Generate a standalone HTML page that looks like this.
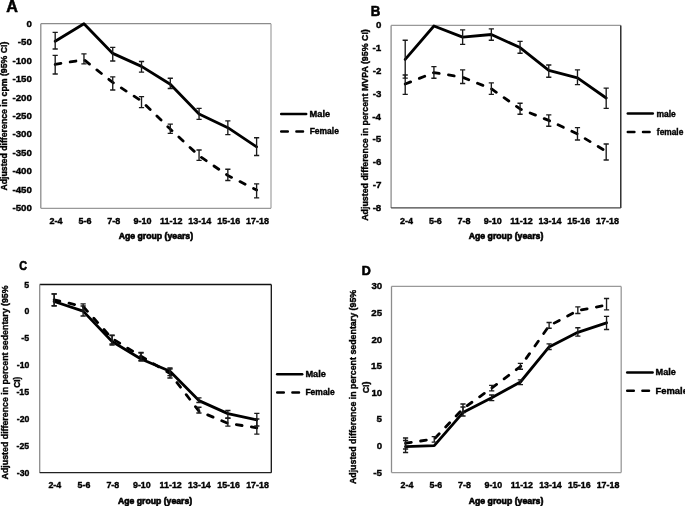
<!DOCTYPE html>
<html><head><meta charset="utf-8"><style>
html,body{margin:0;padding:0;background:#fff;overflow:hidden}
svg{display:block;filter:blur(0.3px)}
text{font-family:"Liberation Sans", sans-serif;font-weight:bold;stroke:#000;stroke-width:0.38px}
</style></head><body>
<svg width="685" height="506" viewBox="0 0 685 506">
<rect width="685" height="506" fill="#fff"/>
<line x1="40.8" y1="23.7" x2="271.0" y2="23.7" stroke="#8c8c8c" stroke-width="1.3"/>
<line x1="40.8" y1="23.7" x2="40.8" y2="208.3" stroke="#8c8c8c" stroke-width="1.3"/>
<line x1="271.0" y1="23.7" x2="271.0" y2="208.3" stroke="#a8a8a8" stroke-width="1.3"/>
<line x1="40.8" y1="208.3" x2="271.0" y2="208.3" stroke="#999" stroke-width="1.3"/>
<polyline points="55.19,41.20 83.96,23.80 112.74,53.40 141.51,66.40 170.29,84.30 199.06,113.90 227.84,127.70 256.61,146.80" fill="none" stroke="#000" stroke-width="2.8" stroke-linejoin="round" stroke-linecap="round"/>
<polyline points="55.19,64.40 83.96,59.70 112.74,82.40 141.51,101.00 170.29,129.10 199.06,155.80 227.84,175.50 256.61,190.00" fill="none" stroke="#000" stroke-width="2.8" stroke-linejoin="round" stroke-linecap="round" stroke-dasharray="5.8 9.4"/>
<path d="M55.19 32.40V49.00M52.59 32.40H57.79M52.59 49.00H57.79" stroke="#1a1a1a" stroke-width="1.35" fill="none"/>
<path d="M112.74 47.30V61.00M110.14 47.30H115.34M110.14 61.00H115.34" stroke="#1a1a1a" stroke-width="1.35" fill="none"/>
<path d="M141.51 61.50V72.10M138.91 61.50H144.11M138.91 72.10H144.11" stroke="#1a1a1a" stroke-width="1.35" fill="none"/>
<path d="M170.29 78.20V88.50M167.69 78.20H172.89M167.69 88.50H172.89" stroke="#1a1a1a" stroke-width="1.35" fill="none"/>
<path d="M199.06 108.40V119.40M196.46 108.40H201.66M196.46 119.40H201.66" stroke="#1a1a1a" stroke-width="1.35" fill="none"/>
<path d="M227.84 120.80V134.60M225.24 120.80H230.44M225.24 134.60H230.44" stroke="#1a1a1a" stroke-width="1.35" fill="none"/>
<path d="M256.61 137.70V155.50M254.01 137.70H259.21M254.01 155.50H259.21" stroke="#1a1a1a" stroke-width="1.35" fill="none"/>
<path d="M55.19 55.30V74.00M52.59 55.30H57.79M52.59 74.00H57.79" stroke="#1a1a1a" stroke-width="1.35" fill="none"/>
<path d="M83.96 53.80V63.90M81.36 53.80H86.56M81.36 63.90H86.56" stroke="#1a1a1a" stroke-width="1.35" fill="none"/>
<path d="M112.74 76.80V90.00M110.14 76.80H115.34M110.14 90.00H115.34" stroke="#1a1a1a" stroke-width="1.35" fill="none"/>
<path d="M141.51 96.60V107.60M138.91 96.60H144.11M138.91 107.60H144.11" stroke="#1a1a1a" stroke-width="1.35" fill="none"/>
<path d="M170.29 124.10V133.30M167.69 124.10H172.89M167.69 133.30H172.89" stroke="#1a1a1a" stroke-width="1.35" fill="none"/>
<path d="M199.06 150.00V160.40M196.46 150.00H201.66M196.46 160.40H201.66" stroke="#1a1a1a" stroke-width="1.35" fill="none"/>
<path d="M227.84 169.20V180.50M225.24 169.20H230.44M225.24 180.50H230.44" stroke="#1a1a1a" stroke-width="1.35" fill="none"/>
<path d="M256.61 183.90V197.80M254.01 183.90H259.21M254.01 197.80H259.21" stroke="#1a1a1a" stroke-width="1.35" fill="none"/>
<text x="26.50" y="27.00" font-size="9.71" textLength="5.40" lengthAdjust="spacingAndGlyphs" fill="#000" >0</text>
<text x="17.85" y="45.00" font-size="9.71" textLength="14.04" lengthAdjust="spacingAndGlyphs" fill="#000" >-50</text>
<text x="12.46" y="64.00" font-size="9.71" textLength="19.44" lengthAdjust="spacingAndGlyphs" fill="#000" >-100</text>
<text x="12.46" y="82.00" font-size="9.71" textLength="19.44" lengthAdjust="spacingAndGlyphs" fill="#000" >-150</text>
<text x="12.46" y="101.00" font-size="9.71" textLength="19.44" lengthAdjust="spacingAndGlyphs" fill="#000" >-200</text>
<text x="12.46" y="119.00" font-size="9.71" textLength="19.44" lengthAdjust="spacingAndGlyphs" fill="#000" >-250</text>
<text x="12.46" y="137.00" font-size="9.71" textLength="19.44" lengthAdjust="spacingAndGlyphs" fill="#000" >-300</text>
<text x="12.46" y="156.00" font-size="9.71" textLength="19.44" lengthAdjust="spacingAndGlyphs" fill="#000" >-350</text>
<text x="12.46" y="174.00" font-size="9.71" textLength="19.44" lengthAdjust="spacingAndGlyphs" fill="#000" >-400</text>
<text x="12.46" y="193.00" font-size="9.71" textLength="19.44" lengthAdjust="spacingAndGlyphs" fill="#000" >-450</text>
<text x="12.46" y="211.00" font-size="9.71" textLength="19.44" lengthAdjust="spacingAndGlyphs" fill="#000" >-500</text>
<text x="49.55" y="224.30" font-size="9.00" textLength="13.01" lengthAdjust="spacingAndGlyphs" fill="#000" >2-4</text>
<text x="78.48" y="224.30" font-size="9.00" textLength="13.01" lengthAdjust="spacingAndGlyphs" fill="#000" >5-6</text>
<text x="107.17" y="224.30" font-size="9.00" textLength="13.01" lengthAdjust="spacingAndGlyphs" fill="#000" >7-8</text>
<text x="133.53" y="224.30" font-size="9.00" textLength="18.01" lengthAdjust="spacingAndGlyphs" fill="#000" >9-10</text>
<text x="159.92" y="224.30" font-size="9.00" textLength="22.52" lengthAdjust="spacingAndGlyphs" fill="#000" >11-12</text>
<text x="188.29" y="224.30" font-size="9.00" textLength="23.02" lengthAdjust="spacingAndGlyphs" fill="#000" >13-14</text>
<text x="217.20" y="224.30" font-size="9.00" textLength="23.02" lengthAdjust="spacingAndGlyphs" fill="#000" >15-16</text>
<text x="245.96" y="224.30" font-size="9.00" textLength="23.02" lengthAdjust="spacingAndGlyphs" fill="#000" >17-18</text>
<text x="118.68" y="239.00" font-size="8.28" textLength="74.43" lengthAdjust="spacingAndGlyphs" fill="#000" style="stroke-width:0.6px">Age group (years)</text>
<text x="0" y="0" font-size="8.60" textLength="149.05" lengthAdjust="spacingAndGlyphs" transform="translate(7.00,190.62) rotate(-90)">Adjusted difference in cpm (95% CI)</text>
<text x="6.20" y="12.00" font-size="17.10" textLength="11.64" lengthAdjust="spacingAndGlyphs" fill="#000" style="stroke-width:0.6px">A</text>
<line x1="281.2" y1="113.9" x2="306.2" y2="113.9" stroke="#000" stroke-width="2.5" stroke-linecap="round"/>
<line x1="281.2" y1="131.4" x2="306.2" y2="131.4" stroke="#000" stroke-width="2.5" stroke-linecap="round" stroke-dasharray="6.6 8.6"/>
<text x="309.60" y="117.00" font-size="8.41" textLength="20.55" lengthAdjust="spacingAndGlyphs" fill="#000" >Male</text>
<text x="309.65" y="134.40" font-size="8.55" textLength="29.26" lengthAdjust="spacingAndGlyphs" fill="#000" >Female</text>
<line x1="391.1" y1="25.4" x2="620.8" y2="25.4" stroke="#999" stroke-width="1.3"/>
<line x1="391.1" y1="25.4" x2="391.1" y2="207.9" stroke="#8c8c8c" stroke-width="1.3"/>
<line x1="620.8" y1="25.4" x2="620.8" y2="207.9" stroke="#111" stroke-width="1.3"/>
<line x1="391.1" y1="207.9" x2="620.8" y2="207.9" stroke="#444" stroke-width="1.3"/>
<polyline points="405.21,59.40 433.92,26.00 462.63,37.10 491.34,34.50 520.06,47.60 548.77,70.40 577.48,77.80 606.19,98.00" fill="none" stroke="#000" stroke-width="2.8" stroke-linejoin="round" stroke-linecap="round"/>
<polyline points="405.21,84.00 433.92,72.60 462.63,77.30 491.34,88.80 520.06,108.90 548.77,120.40 577.48,134.00 606.19,151.40" fill="none" stroke="#000" stroke-width="2.8" stroke-linejoin="round" stroke-linecap="round" stroke-dasharray="5.8 9.4"/>
<path d="M405.21 40.20V78.10M402.61 40.20H407.81M402.61 78.10H407.81" stroke="#1a1a1a" stroke-width="1.35" fill="none"/>
<path d="M462.63 29.80V44.30M460.03 29.80H465.23M460.03 44.30H465.23" stroke="#1a1a1a" stroke-width="1.35" fill="none"/>
<path d="M491.34 28.80V40.20M488.74 28.80H493.94M488.74 40.20H493.94" stroke="#1a1a1a" stroke-width="1.35" fill="none"/>
<path d="M520.06 41.30V53.20M517.46 41.30H522.66M517.46 53.20H522.66" stroke="#1a1a1a" stroke-width="1.35" fill="none"/>
<path d="M548.77 65.00V77.20M546.17 65.00H551.37M546.17 77.20H551.37" stroke="#1a1a1a" stroke-width="1.35" fill="none"/>
<path d="M577.48 69.80V84.60M574.88 69.80H580.08M574.88 84.60H580.08" stroke="#1a1a1a" stroke-width="1.35" fill="none"/>
<path d="M606.19 88.10V108.30M603.59 88.10H608.79M603.59 108.30H608.79" stroke="#1a1a1a" stroke-width="1.35" fill="none"/>
<path d="M405.21 75.00V94.40M402.61 75.00H407.81M402.61 94.40H407.81" stroke="#1a1a1a" stroke-width="1.35" fill="none"/>
<path d="M433.92 66.60V78.20M431.32 66.60H436.52M431.32 78.20H436.52" stroke="#1a1a1a" stroke-width="1.35" fill="none"/>
<path d="M462.63 69.80V83.50M460.03 69.80H465.23M460.03 83.50H465.23" stroke="#1a1a1a" stroke-width="1.35" fill="none"/>
<path d="M491.34 82.90V94.30M488.74 82.90H493.94M488.74 94.30H493.94" stroke="#1a1a1a" stroke-width="1.35" fill="none"/>
<path d="M520.06 103.20V114.20M517.46 103.20H522.66M517.46 114.20H522.66" stroke="#1a1a1a" stroke-width="1.35" fill="none"/>
<path d="M548.77 114.90V126.20M546.17 114.90H551.37M546.17 126.20H551.37" stroke="#1a1a1a" stroke-width="1.35" fill="none"/>
<path d="M577.48 127.60V140.00M574.88 127.60H580.08M574.88 140.00H580.08" stroke="#1a1a1a" stroke-width="1.35" fill="none"/>
<path d="M606.19 144.00V160.00M603.59 144.00H608.79M603.59 160.00H608.79" stroke="#1a1a1a" stroke-width="1.35" fill="none"/>
<text x="376.00" y="28.00" font-size="9.71" textLength="5.40" lengthAdjust="spacingAndGlyphs" fill="#000" >0</text>
<text x="372.48" y="51.00" font-size="9.86" textLength="8.76" lengthAdjust="spacingAndGlyphs" fill="#000" >-1</text>
<text x="372.74" y="74.00" font-size="9.71" textLength="8.64" lengthAdjust="spacingAndGlyphs" fill="#000" >-2</text>
<text x="372.69" y="97.00" font-size="9.71" textLength="8.64" lengthAdjust="spacingAndGlyphs" fill="#000" >-3</text>
<text x="372.28" y="120.00" font-size="9.86" textLength="8.76" lengthAdjust="spacingAndGlyphs" fill="#000" >-4</text>
<text x="372.48" y="142.00" font-size="9.86" textLength="8.76" lengthAdjust="spacingAndGlyphs" fill="#000" >-5</text>
<text x="372.69" y="165.00" font-size="9.71" textLength="8.64" lengthAdjust="spacingAndGlyphs" fill="#000" >-6</text>
<text x="372.67" y="188.00" font-size="9.86" textLength="8.76" lengthAdjust="spacingAndGlyphs" fill="#000" >-7</text>
<text x="372.65" y="211.00" font-size="9.71" textLength="8.64" lengthAdjust="spacingAndGlyphs" fill="#000" >-8</text>
<text x="400.02" y="224.30" font-size="9.00" textLength="13.01" lengthAdjust="spacingAndGlyphs" fill="#000" >2-4</text>
<text x="428.89" y="224.30" font-size="9.00" textLength="13.01" lengthAdjust="spacingAndGlyphs" fill="#000" >5-6</text>
<text x="457.51" y="224.30" font-size="9.00" textLength="13.01" lengthAdjust="spacingAndGlyphs" fill="#000" >7-8</text>
<text x="483.82" y="224.30" font-size="9.00" textLength="18.01" lengthAdjust="spacingAndGlyphs" fill="#000" >9-10</text>
<text x="510.14" y="224.30" font-size="9.00" textLength="22.52" lengthAdjust="spacingAndGlyphs" fill="#000" >11-12</text>
<text x="538.45" y="224.30" font-size="9.00" textLength="23.02" lengthAdjust="spacingAndGlyphs" fill="#000" >13-14</text>
<text x="567.30" y="224.30" font-size="9.00" textLength="23.02" lengthAdjust="spacingAndGlyphs" fill="#000" >15-16</text>
<text x="595.99" y="224.30" font-size="9.00" textLength="23.02" lengthAdjust="spacingAndGlyphs" fill="#000" >17-18</text>
<text x="468.68" y="239.00" font-size="8.28" textLength="74.63" lengthAdjust="spacingAndGlyphs" fill="#000" style="stroke-width:0.6px">Age group (years)</text>
<text x="0" y="0" font-size="8.80" textLength="191.63" lengthAdjust="spacingAndGlyphs" transform="translate(368.00,220.82) rotate(-90)">Adjusted difference in percent MVPA (95% CI)</text>
<text x="370.64" y="15.60" font-size="14.93" textLength="9.59" lengthAdjust="spacingAndGlyphs" fill="#000" style="stroke-width:0.6px">B</text>
<line x1="627.8" y1="113.6" x2="652.8" y2="113.6" stroke="#000" stroke-width="2.5" stroke-linecap="round"/>
<line x1="627.8" y1="132.0" x2="652.8" y2="132.0" stroke="#000" stroke-width="2.5" stroke-linecap="round" stroke-dasharray="6.6 8.6"/>
<text x="656.45" y="116.60" font-size="8.28" textLength="19.34" lengthAdjust="spacingAndGlyphs" fill="#000" >male</text>
<text x="656.87" y="134.50" font-size="8.97" textLength="26.45" lengthAdjust="spacingAndGlyphs" fill="#000" >female</text>
<line x1="39.7" y1="284.5" x2="271.3" y2="284.5" stroke="#111" stroke-width="1.3"/>
<line x1="39.7" y1="284.5" x2="39.7" y2="472.7" stroke="#8c8c8c" stroke-width="1.3"/>
<line x1="271.3" y1="284.5" x2="271.3" y2="472.7" stroke="#111" stroke-width="1.3"/>
<line x1="39.7" y1="472.7" x2="271.3" y2="472.7" stroke="#222" stroke-width="1.3"/>
<polyline points="54.18,301.50 83.12,311.10 112.08,341.50 141.03,359.00 169.98,371.30 198.93,400.60 227.88,413.60 256.83,419.80" fill="none" stroke="#000" stroke-width="2.8" stroke-linejoin="round" stroke-linecap="round"/>
<polyline points="54.18,299.80 83.12,306.50 112.08,338.50 141.03,356.30 169.98,373.50 198.93,411.20 227.88,423.30 256.83,427.80" fill="none" stroke="#000" stroke-width="2.8" stroke-linejoin="round" stroke-linecap="round" stroke-dasharray="5.8 9.4"/>
<path d="M54.18 293.80V305.60M51.58 293.80H56.78M51.58 305.60H56.78" stroke="#1a1a1a" stroke-width="1.35" fill="none"/>
<path d="M83.12 306.00V316.00M80.53 306.00H85.72M80.53 316.00H85.72" stroke="#1a1a1a" stroke-width="1.35" fill="none"/>
<path d="M112.08 335.10V345.00M109.48 335.10H114.67M109.48 345.00H114.67" stroke="#1a1a1a" stroke-width="1.35" fill="none"/>
<path d="M141.03 352.40V360.40M138.43 352.40H143.63M138.43 360.40H143.63" stroke="#1a1a1a" stroke-width="1.35" fill="none"/>
<path d="M169.98 368.00V375.60M167.38 368.00H172.58M167.38 375.60H172.58" stroke="#1a1a1a" stroke-width="1.35" fill="none"/>
<path d="M198.93 397.80V402.50M196.33 397.80H201.53M196.33 402.50H201.53" stroke="#1a1a1a" stroke-width="1.35" fill="none"/>
<path d="M227.88 410.50V418.00M225.28 410.50H230.47M225.28 418.00H230.47" stroke="#1a1a1a" stroke-width="1.35" fill="none"/>
<path d="M256.83 413.40V426.00M254.23 413.40H259.43M254.23 426.00H259.43" stroke="#1a1a1a" stroke-width="1.35" fill="none"/>
<path d="M54.18 294.00V306.00M51.58 294.00H56.78M51.58 306.00H56.78" stroke="#1a1a1a" stroke-width="1.35" fill="none"/>
<path d="M83.12 303.80V311.00M80.53 303.80H85.72M80.53 311.00H85.72" stroke="#1a1a1a" stroke-width="1.35" fill="none"/>
<path d="M112.08 335.50V344.00M109.48 335.50H114.67M109.48 344.00H114.67" stroke="#1a1a1a" stroke-width="1.35" fill="none"/>
<path d="M141.03 353.00V361.00M138.43 353.00H143.63M138.43 361.00H143.63" stroke="#1a1a1a" stroke-width="1.35" fill="none"/>
<path d="M169.98 369.00V378.00M167.38 369.00H172.58M167.38 378.00H172.58" stroke="#1a1a1a" stroke-width="1.35" fill="none"/>
<path d="M198.93 407.20V413.00M196.33 407.20H201.53M196.33 413.00H201.53" stroke="#1a1a1a" stroke-width="1.35" fill="none"/>
<path d="M227.88 418.30V426.10M225.28 418.30H230.47M225.28 426.10H230.47" stroke="#1a1a1a" stroke-width="1.35" fill="none"/>
<path d="M256.83 419.00V434.10M254.23 419.00H259.43M254.23 434.10H259.43" stroke="#1a1a1a" stroke-width="1.35" fill="none"/>
<text x="24.30" y="288.00" font-size="9.86" textLength="4.93" lengthAdjust="spacingAndGlyphs" fill="#000" >5</text>
<text x="24.50" y="314.00" font-size="9.71" textLength="4.86" lengthAdjust="spacingAndGlyphs" fill="#000" >0</text>
<text x="21.33" y="341.00" font-size="9.86" textLength="7.89" lengthAdjust="spacingAndGlyphs" fill="#000" >-5</text>
<text x="16.72" y="368.00" font-size="9.71" textLength="12.64" lengthAdjust="spacingAndGlyphs" fill="#000" >-10</text>
<text x="16.41" y="395.00" font-size="9.86" textLength="12.82" lengthAdjust="spacingAndGlyphs" fill="#000" >-15</text>
<text x="16.72" y="422.00" font-size="9.71" textLength="12.64" lengthAdjust="spacingAndGlyphs" fill="#000" >-20</text>
<text x="16.59" y="449.00" font-size="9.71" textLength="12.64" lengthAdjust="spacingAndGlyphs" fill="#000" >-25</text>
<text x="16.72" y="476.00" font-size="9.71" textLength="12.64" lengthAdjust="spacingAndGlyphs" fill="#000" >-30</text>
<text x="48.44" y="488.00" font-size="8.86" textLength="12.80" lengthAdjust="spacingAndGlyphs" fill="#000" >2-4</text>
<text x="77.55" y="488.00" font-size="8.86" textLength="12.80" lengthAdjust="spacingAndGlyphs" fill="#000" >5-6</text>
<text x="106.41" y="488.00" font-size="8.86" textLength="12.80" lengthAdjust="spacingAndGlyphs" fill="#000" >7-8</text>
<text x="132.99" y="488.00" font-size="8.86" textLength="17.73" lengthAdjust="spacingAndGlyphs" fill="#000" >9-10</text>
<text x="159.59" y="488.00" font-size="8.86" textLength="22.17" lengthAdjust="spacingAndGlyphs" fill="#000" >11-12</text>
<text x="188.14" y="488.00" font-size="8.86" textLength="22.65" lengthAdjust="spacingAndGlyphs" fill="#000" >13-14</text>
<text x="217.23" y="488.00" font-size="8.86" textLength="22.65" lengthAdjust="spacingAndGlyphs" fill="#000" >15-16</text>
<text x="246.16" y="488.00" font-size="8.86" textLength="22.65" lengthAdjust="spacingAndGlyphs" fill="#000" >17-18</text>
<text x="117.98" y="503.50" font-size="8.28" textLength="74.13" lengthAdjust="spacingAndGlyphs" fill="#000" style="stroke-width:0.6px">Age group (years)</text>
<text x="0" y="0" font-size="8.50" textLength="194.01" lengthAdjust="spacingAndGlyphs" transform="translate(8.00,479.42) rotate(-90)">Adjusted difference in percent sedentary (95%</text>
<text x="0" y="0" font-size="8.50" textLength="11.14" lengthAdjust="spacingAndGlyphs" transform="translate(20.00,387.73) rotate(-90)">CI)</text>
<text x="19.37" y="270.30" font-size="13.29" textLength="7.72" lengthAdjust="spacingAndGlyphs" fill="#000" style="stroke-width:0.6px">C</text>
<line x1="277.2" y1="374.3" x2="302.2" y2="374.3" stroke="#000" stroke-width="2.5" stroke-linecap="round"/>
<line x1="277.2" y1="392.6" x2="302.2" y2="392.6" stroke="#000" stroke-width="2.5" stroke-linecap="round" stroke-dasharray="6.6 8.6"/>
<text x="305.40" y="377.40" font-size="8.55" textLength="20.55" lengthAdjust="spacingAndGlyphs" fill="#000" >Male</text>
<text x="305.45" y="395.40" font-size="8.41" textLength="29.26" lengthAdjust="spacingAndGlyphs" fill="#000" >Female</text>
<line x1="391.5" y1="286.4" x2="621.2" y2="286.4" stroke="#999" stroke-width="1.3"/>
<line x1="391.5" y1="286.4" x2="391.5" y2="472.6" stroke="#8c8c8c" stroke-width="1.3"/>
<line x1="621.2" y1="286.4" x2="621.2" y2="472.6" stroke="#999" stroke-width="1.3"/>
<line x1="391.5" y1="472.6" x2="621.2" y2="472.6" stroke="#999" stroke-width="1.3"/>
<polyline points="405.56,446.60 434.27,445.70 462.98,412.60 491.69,397.80 520.41,382.00 549.12,346.90 577.83,332.30 606.54,322.80" fill="none" stroke="#000" stroke-width="2.8" stroke-linejoin="round" stroke-linecap="round"/>
<polyline points="405.56,443.20 434.27,439.00 462.98,408.70 491.69,388.10 520.41,366.60 549.12,325.80 577.83,310.60 606.54,305.10" fill="none" stroke="#000" stroke-width="2.8" stroke-linejoin="round" stroke-linecap="round" stroke-dasharray="5.8 9.4"/>
<path d="M405.56 440.50V452.50M402.96 440.50H408.16M402.96 452.50H408.16" stroke="#1a1a1a" stroke-width="1.35" fill="none"/>
<path d="M462.98 407.00V416.00M460.38 407.00H465.58M460.38 416.00H465.58" stroke="#1a1a1a" stroke-width="1.35" fill="none"/>
<path d="M491.69 395.00V400.60M489.09 395.00H494.29M489.09 400.60H494.29" stroke="#1a1a1a" stroke-width="1.35" fill="none"/>
<path d="M520.41 379.90V384.60M517.81 379.90H523.01M517.81 384.60H523.01" stroke="#1a1a1a" stroke-width="1.35" fill="none"/>
<path d="M549.12 343.80V349.50M546.52 343.80H551.72M546.52 349.50H551.72" stroke="#1a1a1a" stroke-width="1.35" fill="none"/>
<path d="M577.83 327.70V336.10M575.23 327.70H580.43M575.23 336.10H580.43" stroke="#1a1a1a" stroke-width="1.35" fill="none"/>
<path d="M606.54 316.30V329.50M603.94 316.30H609.14M603.94 329.50H609.14" stroke="#1a1a1a" stroke-width="1.35" fill="none"/>
<path d="M405.56 438.00V449.00M402.96 438.00H408.16M402.96 449.00H408.16" stroke="#1a1a1a" stroke-width="1.35" fill="none"/>
<path d="M434.27 436.60V442.10M431.67 436.60H436.87M431.67 442.10H436.87" stroke="#1a1a1a" stroke-width="1.35" fill="none"/>
<path d="M462.98 404.00V412.50M460.38 404.00H465.58M460.38 412.50H465.58" stroke="#1a1a1a" stroke-width="1.35" fill="none"/>
<path d="M491.69 385.40V390.90M489.09 385.40H494.29M489.09 390.90H494.29" stroke="#1a1a1a" stroke-width="1.35" fill="none"/>
<path d="M520.41 363.30V369.20M517.81 363.30H523.01M517.81 369.20H523.01" stroke="#1a1a1a" stroke-width="1.35" fill="none"/>
<path d="M549.12 322.50V328.20M546.52 322.50H551.72M546.52 328.20H551.72" stroke="#1a1a1a" stroke-width="1.35" fill="none"/>
<path d="M577.83 306.80V313.50M575.23 306.80H580.43M575.23 313.50H580.43" stroke="#1a1a1a" stroke-width="1.35" fill="none"/>
<path d="M606.54 298.50V309.90M603.94 298.50H609.14M603.94 309.90H609.14" stroke="#1a1a1a" stroke-width="1.35" fill="none"/>
<text x="371.41" y="289.00" font-size="9.71" textLength="10.81" lengthAdjust="spacingAndGlyphs" fill="#000" >30</text>
<text x="371.26" y="316.00" font-size="9.71" textLength="10.81" lengthAdjust="spacingAndGlyphs" fill="#000" >25</text>
<text x="371.41" y="343.00" font-size="9.71" textLength="10.81" lengthAdjust="spacingAndGlyphs" fill="#000" >20</text>
<text x="371.11" y="369.00" font-size="9.86" textLength="10.96" lengthAdjust="spacingAndGlyphs" fill="#000" >15</text>
<text x="371.41" y="396.00" font-size="9.71" textLength="10.81" lengthAdjust="spacingAndGlyphs" fill="#000" >10</text>
<text x="376.58" y="422.00" font-size="9.86" textLength="5.48" lengthAdjust="spacingAndGlyphs" fill="#000" >5</text>
<text x="376.80" y="449.00" font-size="9.71" textLength="5.40" lengthAdjust="spacingAndGlyphs" fill="#000" >0</text>
<text x="373.28" y="476.00" font-size="9.86" textLength="8.76" lengthAdjust="spacingAndGlyphs" fill="#000" >-5</text>
<text x="400.62" y="488.00" font-size="8.86" textLength="12.80" lengthAdjust="spacingAndGlyphs" fill="#000" >2-4</text>
<text x="429.49" y="488.00" font-size="8.86" textLength="12.80" lengthAdjust="spacingAndGlyphs" fill="#000" >5-6</text>
<text x="458.12" y="488.00" font-size="8.86" textLength="12.80" lengthAdjust="spacingAndGlyphs" fill="#000" >7-8</text>
<text x="484.46" y="488.00" font-size="8.86" textLength="17.73" lengthAdjust="spacingAndGlyphs" fill="#000" >9-10</text>
<text x="510.82" y="488.00" font-size="8.86" textLength="22.17" lengthAdjust="spacingAndGlyphs" fill="#000" >11-12</text>
<text x="539.14" y="488.00" font-size="8.86" textLength="22.65" lengthAdjust="spacingAndGlyphs" fill="#000" >13-14</text>
<text x="567.98" y="488.00" font-size="8.86" textLength="22.65" lengthAdjust="spacingAndGlyphs" fill="#000" >15-16</text>
<text x="596.67" y="488.00" font-size="8.86" textLength="22.65" lengthAdjust="spacingAndGlyphs" fill="#000" >17-18</text>
<text x="468.68" y="503.50" font-size="8.28" textLength="74.63" lengthAdjust="spacingAndGlyphs" fill="#000" style="stroke-width:0.6px">Age group (years)</text>
<text x="0" y="0" font-size="8.80" textLength="194.31" lengthAdjust="spacingAndGlyphs" transform="translate(356.00,484.12) rotate(-90)">Adjusted difference in percent sedentary (95%</text>
<text x="0" y="0" font-size="8.80" textLength="11.78" lengthAdjust="spacingAndGlyphs" transform="translate(369.00,393.35) rotate(-90)">CI)</text>
<text x="361.69" y="275.20" font-size="11.88" textLength="9.04" lengthAdjust="spacingAndGlyphs" fill="#000" style="stroke-width:0.6px">D</text>
<line x1="627.2" y1="372.6" x2="652.6" y2="372.6" stroke="#000" stroke-width="2.5" stroke-linecap="round"/>
<line x1="627.2" y1="390.8" x2="652.6" y2="390.8" stroke="#000" stroke-width="2.5" stroke-linecap="round" stroke-dasharray="6.6 8.6"/>
<text x="655.61" y="375.30" font-size="8.55" textLength="20.34" lengthAdjust="spacingAndGlyphs" fill="#000" >Male</text>
<text x="655.59" y="393.70" font-size="8.55" textLength="32.35" lengthAdjust="spacingAndGlyphs" fill="#000" >Female</text>
</svg>
</body></html>
